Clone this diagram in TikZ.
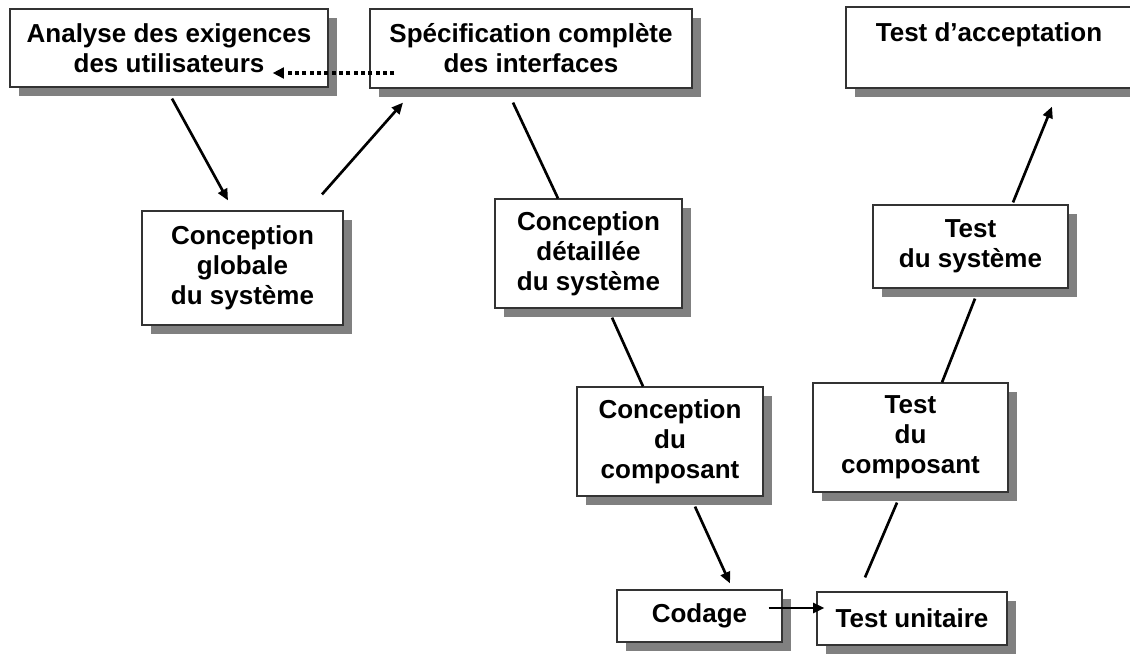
\documentclass[tikz,border=0pt]{standalone}
\usepackage{fontspec}
\setmainfont{Liberation Sans}
\usetikzlibrary{arrows.meta, calc, shadows}

\tikzset{
        etape/.style={draw=black!80, line width=0.9pt, fill=white, align=center, inner sep=0pt,
                font=\fontsize{19.5}{22.5}\selectfont\bfseries,
                drop shadow={shadow xshift=6.75pt, shadow yshift=-6.75pt, fill=black!50, opacity=1}},
        taille/.style 2 args={minimum width=0.75*#1, minimum height=0.75*#2},
        trait/.style={line width=2pt, black},
        fleche/.style={trait, -{Triangle[length=8.5pt, width=7.5pt]}},
        pointille/.style={line width=2.7pt, dash pattern=on 3pt off 2.5pt, -{Triangle[length=8.5pt, width=8pt]}}
}

\begin{document}
\begin{tikzpicture}[x=0.75pt, y=-0.75pt]
        \useasboundingbox (0,0) rectangle (1130,654);
        \clip (0,0) rectangle (1130,654);

        \node[etape, taille={318}{78}] (analyse) at (169,48) {Analyse des exigences\\des utilisateurs};
        \node[etape, taille={322}{79}] (spec) at (531,48.5) {Sp\'ecification compl\`ete\\des interfaces};
        \node[etape, taille={286}{81}] (accept) at (989,47.5) {Test d'acceptation\\\mbox{}};

        \node[etape, taille={201}{114}] (globale) at (242.5,268) {Conception\\globale\\du syst\`eme};
        \node[etape, taille={187}{109}] (detaillee) at (588.5,253.5) {Conception\\d\'etaill\'ee\\du syst\`eme};
        \node[etape, taille={186}{109}] (compos) at (670,441.5) {Conception\\du\\composant};

        \node[etape, taille={165}{52}] (codage) at (699.5,616) {Codage};
        \node[etape, taille={190}{53}] (unitaire) at (912,618.5) {Test unitaire};

        \node[etape, taille={195}{109}] (tcomp) at (910.5,437.5) {Test\\du\\composant};
        \node[etape, taille={195}{83}] (tsys) at (970.5,246.5) {Test\\du syst\`eme};

        \draw[fleche] ($(analyse.south)+(3,11)$) -- ($(globale.north)+(-14.5,-10)$);
        \draw[fleche] ($(globale.north)+(79.5,-16)$) -- ($(spec.south)+(-128,14)$);
        \draw[pointille] ($(spec.west)+(25,24.5)$) -- ($(analyse.east)+(-56,25)$);

        \draw[trait] ($(spec.south)+(-18,14)$) -- ($(detaillee.north)+(-30.5,0)$);
        \draw[trait] ($(detaillee.south)+(23.5,9)$) -- ($(compos.north)+(-27,0)$);
        \draw[fleche] ($(compos.south)+(25,10)$) -- ($(codage.north)+(30.5,-6)$);
        \draw[fleche] ($(codage.east)+(-14,-8)$) -- ($(unitaire.west)+(8,-10.5)$);

        \draw[trait] ($(unitaire.north)+(-47,-14)$) -- ($(tcomp.south)+(-13.5,10)$);
        \draw[trait] ($(tcomp.north)+(31.5,0)$) -- ($(tsys.south)+(4.5,10)$);
        \draw[fleche] ($(tsys.north)+(42.5,-2)$) -- ($(accept.south)+(63,18)$);
\end{tikzpicture}
\end{document}
